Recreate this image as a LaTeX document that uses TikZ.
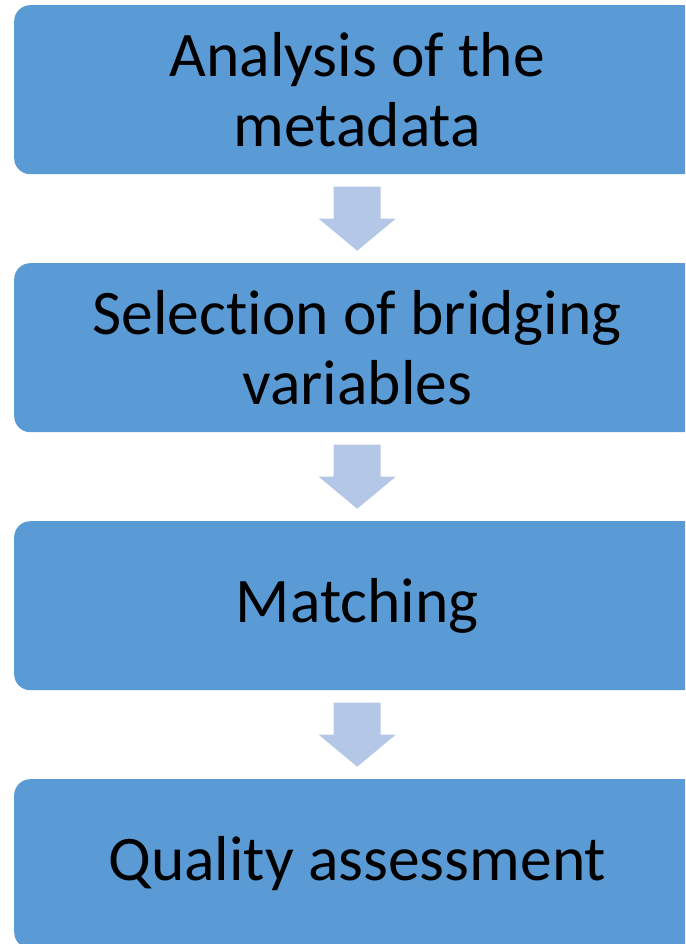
\documentclass[tikz,border=0pt]{standalone}
\usepackage{fontspec}
\setmainfont[RawFeature={-liga;-clig;-dlig}]{Carlito}
\usetikzlibrary{calc}
\definecolor{boxblue}{HTML}{5B9BD5}
\definecolor{arrowblue}{HTML}{B4C7E7}
\tikzset{
  stagebox/.style={rectangle, rounded corners=16pt, fill=boxblue, draw=none,
    minimum width=686pt, minimum height=169pt, inner sep=0pt, anchor=north west,
    align=center, text=black,
    font=\fontsize{63.5pt}{70pt}\selectfont},
  downarrow/.style={fill=arrowblue, draw=none}
}
% block arrow centred on a coordinate, pointing down
\newcommand{\blockarrow}[1]{%
  \fill[downarrow] ($(#1)+(-23.5pt,32pt)$) -- ($(#1)+(23.5pt,32pt)$)
    -- ($(#1)+(23.5pt,0pt)$) -- ($(#1)+(38.5pt,0pt)$) -- ($(#1)+(0pt,-32pt)$)
    -- ($(#1)+(-38.5pt,0pt)$) -- ($(#1)+(-23.5pt,0pt)$) -- cycle;}
\begin{document}
\begin{tikzpicture}[x=1pt,y=1pt]
\useasboundingbox (0,0) rectangle (685,-944);
\clip (0,0) rectangle (685,-944);
\node[stagebox] (b1) at (14,-5) {Analysis of the\\metadata};
\node[stagebox] (b2) at (14,-263) {Select\kern0pt ion of bridging\\variables};
\node[stagebox] (b3) at (14,-521) {Matching};
\node[stagebox] (b4) at (14,-779) {Quality assessment};
\path (b1.south) -- (b2.north) coordinate[midway] (m1);
\path (b2.south) -- (b3.north) coordinate[midway] (m2);
\path (b3.south) -- (b4.north) coordinate[midway] (m3);
\blockarrow{m1}
\blockarrow{m2}
\blockarrow{m3}
\end{tikzpicture}
\end{document}
